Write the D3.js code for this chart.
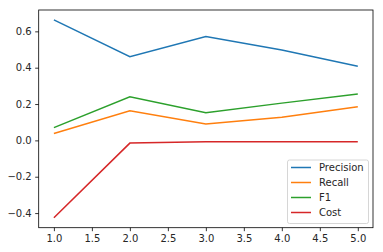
<!DOCTYPE html>
<html>
<head>
<meta charset="utf-8">
<script src="https://cdn.jsdelivr.net/npm/d3@7"></script>
<style>
  body { margin: 0; background: #fff; }
  text { font-family: "DejaVu Sans", sans-serif; font-size: 10px; fill: #262626; }
</style>
</head>
<body>
<svg width="383" height="252"></svg>
<script>
// values
var epochs = [1, 2, 3, 4, 5];
var precision = [0.663, 0.461, 0.571, 0.497, 0.408];
var recall = [0.038, 0.163, 0.090, 0.127, 0.185];
var f1 = [0.070, 0.240, 0.152, 0.205, 0.255];
var cost = [-0.426, -0.015, -0.008, -0.007, -0.008];
var seriesNames = ["Precision", "Recall", "F1", "Cost"];
var seriesColors = ["#1f77b4", "#ff7f0e", "#2ca02c", "#d62728"];
var xTicks = [1.0, 1.5, 2.0, 2.5, 3.0, 3.5, 4.0, 4.5, 5.0];
var yTicks = [-0.4, -0.2, 0.0, 0.2, 0.4, 0.6];

var series = [precision, recall, f1, cost];

var plotLeft = 38.7, plotRight = 373, plotTop = 10, plotBottom = 227.7;

var svg = d3.select("svg");

// matplotlib-style 5% margins
var x = d3.scaleLinear().domain([0.8, 5.2]).range([plotLeft, plotRight]);
var yMin = d3.min(series, function(s) { return d3.min(s); });
var yMax = d3.max(series, function(s) { return d3.max(s); });
var pad = (yMax - yMin) * 0.05;
var y = d3.scaleLinear().domain([yMin - pad, yMax + pad]).range([plotBottom, plotTop]);

var fmt = function(d) { return d3.format(".1f")(d).replace("-", "\u2212").replace("\u2212", "\u2212"); };

// axes
var xAxis = svg.append("g")
    .attr("transform", "translate(0," + plotBottom + ")")
    .call(d3.axisBottom(x).tickValues(xTicks).tickFormat(fmt).tickSize(3.5).tickPadding(3.5));
var yAxis = svg.append("g")
    .attr("transform", "translate(" + plotLeft + ",0)")
    .call(d3.axisLeft(y).tickValues(yTicks).tickFormat(fmt).tickSize(3.5).tickPadding(3.5));

[xAxis, yAxis].forEach(function(a) {
    a.select(".domain").remove();
    a.selectAll("line").attr("stroke", "#000").attr("stroke-width", 0.8);
    a.selectAll("text").attr("fill", "#262626").style("font-size", "10px")
        .style("font-family", "DejaVu Sans, sans-serif");
});

// lines
var line = d3.line()
    .x(function(d, i) { return x(epochs[i]); })
    .y(function(d) { return y(d); });

series.forEach(function(s, i) {
    svg.append("path")
        .attr("d", line(s))
        .attr("fill", "none")
        .attr("stroke", seriesColors[i])
        .attr("stroke-width", 1.5);
});

// frame
svg.append("rect")
    .attr("x", plotLeft).attr("y", plotTop)
    .attr("width", plotRight - plotLeft).attr("height", plotBottom - plotTop)
    .attr("fill", "none").attr("stroke", "#000").attr("stroke-width", 0.8);

// legend
var lg = svg.append("g").attr("transform", "translate(287.5,160)");
lg.append("rect")
    .attr("width", 81).attr("height", 63.5).attr("rx", 2)
    .attr("fill", "#fff").attr("fill-opacity", 0.8)
    .attr("stroke", "#ccc").attr("stroke-width", 0.8);
seriesNames.forEach(function(name, i) {
    var yy = 7.5 + i * 15;
    lg.append("line")
        .attr("x1", 3.5).attr("x2", 23.5)
        .attr("y1", yy).attr("y2", yy)
        .attr("stroke", seriesColors[i]).attr("stroke-width", 1.5);
    lg.append("text")
        .attr("x", 31.5).attr("y", yy + 3.6)
        .text(name);
});
</script>
</body>
</html>
